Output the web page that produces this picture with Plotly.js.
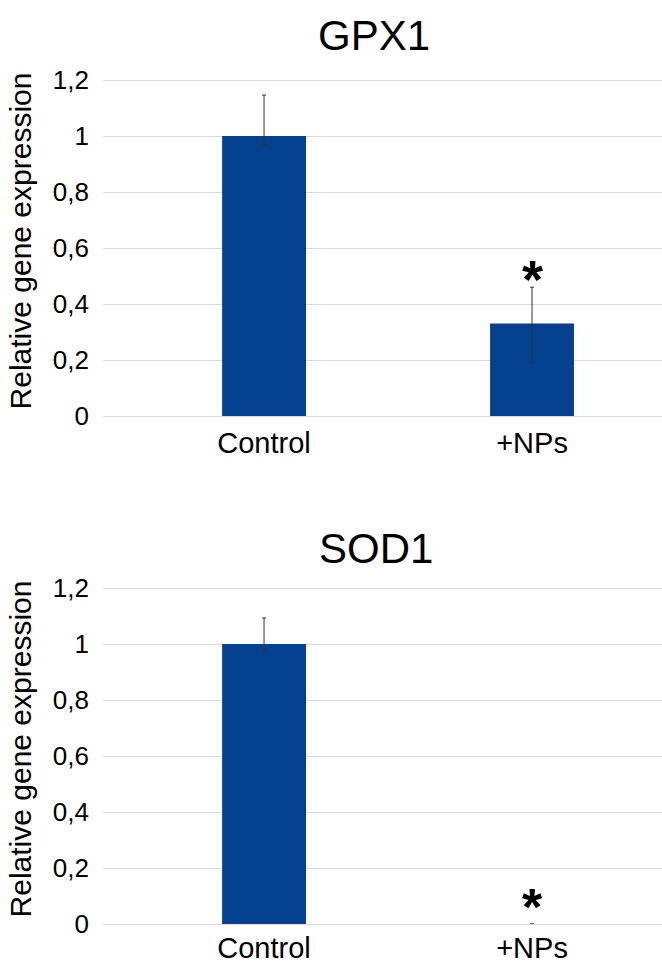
<!DOCTYPE html>
<html>
<head>
<meta charset="utf-8">
<script src="https://cdn.plot.ly/plotly-3.0.1.min.js"></script>
<style>html,body{margin:0;padding:0;background:#fff;}#chart{width:662px;height:966px;}</style>
</head>
<body>
<div id="chart"></div>
<script>
// ---- data ----
const categories = ['Control', '+NPs'];
const gpx1Values = [1.0, 0.33];
const gpx1ErrPlus = [0.146, 0.13];
const gpx1ErrMinus = [0.032, 0.14];
const sod1Values = [1.0, 0.0];
const sod1ErrPlus = [0.093, null];
const sod1ErrMinus = [0.025, null];
const gpx1Star = [null, 0.49];
const sod1Star = [null, 0.06];
const yTickVals = [0, 0.2, 0.4, 0.6, 0.8, 1.0, 1.2];
const yTickText = ['0', '0,2', '0,4', '0,6', '0,8', '1', '1,2'];
const panelTitles = ['GPX1', 'SOD1'];
const yTitle = 'Relative gene expression';

// ---- style ----
const barColor = '#03418f';
const gridColor = '#d9d9d9';
const fontFam = 'Arial, "Liberation Sans", sans-serif';

function barTrace(vals, plus, minus, xa, ya) {
  return {
    type: 'bar', x: categories, y: vals, xaxis: xa, yaxis: ya,
    marker: {color: barColor, line: {width: 0}},
    error_y: {type: 'data', symmetric: false, array: plus, arrayminus: minus,
      color: '#333333', thickness: 1, width: 2},
    showlegend: false, hoverinfo: 'skip'
  };
}

const traces = [
  barTrace(gpx1Values, gpx1ErrPlus, gpx1ErrMinus, 'x', 'y'),
  barTrace(sod1Values, sod1ErrPlus, sod1ErrMinus, 'x2', 'y2')
];

function starAnnots(stars, xref, yref, size) {
  const out = [];
  stars.forEach((v, i) => {
    if (v !== null) out.push({x: categories[i], y: v, xref: xref, yref: yref,
      text: '<b>*</b>', showarrow: false, yanchor: 'middle',
      font: {family: fontFam, size: size, color: '#000'}});
  });
  return out;
}

const H = 966;
const L = 103, W = 662 - L;
function yAxis(domain, anchor) {
  return {
    domain: domain, anchor: anchor, range: [0, 1.25],
    tickmode: 'array', tickvals: yTickVals, ticktext: yTickText,
    showgrid: true, gridcolor: gridColor, gridwidth: 1,
    zeroline: true, zerolinecolor: gridColor, zerolinewidth: 1,
    showline: false, ticks: '', ticklabelstandoff: 13,
    tickfont: {family: fontFam, size: 26, color: '#000'},
    title: {text: yTitle, font: {family: fontFam, size: 30, color: '#000'}, standoff: 12},
    automargin: false, fixedrange: true
  };
}
function xAxis(anchor, standoff) {
  return {
    domain: [0, 1], anchor: anchor, type: 'category', range: [-0.601, 1.485],
    showgrid: false, zeroline: false, showline: false, ticks: '',
    ticklabelstandoff: standoff,
    tickfont: {family: fontFam, size: 29, color: '#000'},
    automargin: false, fixedrange: true
  };
}
// pixel rows for value 0: top panel 416, bottom panel ~924 (280 px per unit)
function dom(zeroPx) { return [1 - zeroPx / H, 1 - (zeroPx - 1.25 * 280) / H]; }

const layout = {
  width: 662, height: 966,
  margin: {l: L, r: 0, t: 0, b: 0},
  paper_bgcolor: '#fff', plot_bgcolor: '#fff',
  bargap: 0.687,
  font: {family: fontFam, color: '#000'},
  xaxis: xAxis('y', 7), yaxis: yAxis(dom(416), 'x'),
  xaxis2: xAxis('y2', 4), yaxis2: yAxis(dom(924), 'x2'),
  annotations: [
    {text: panelTitles[0], xref: 'paper', yref: 'paper', x: (374 - L) / W, y: 1 - 36 / H,
     xanchor: 'center', yanchor: 'middle', showarrow: false,
     font: {family: fontFam, size: 42, color: '#000'}},
    {text: panelTitles[1], xref: 'paper', yref: 'paper', x: (376 - L) / W, y: (H - 548) / H,
     xanchor: 'center', yanchor: 'middle', showarrow: false,
     font: {family: fontFam, size: 42, color: '#000'}}
  ].concat(starAnnots(gpx1Star, 'x', 'y', 54), starAnnots(sod1Star, 'x2', 'y2', 52))
};

Plotly.newPlot('chart', traces, layout, {displayModeBar: false, staticPlot: true});
</script>
</body>
</html>
